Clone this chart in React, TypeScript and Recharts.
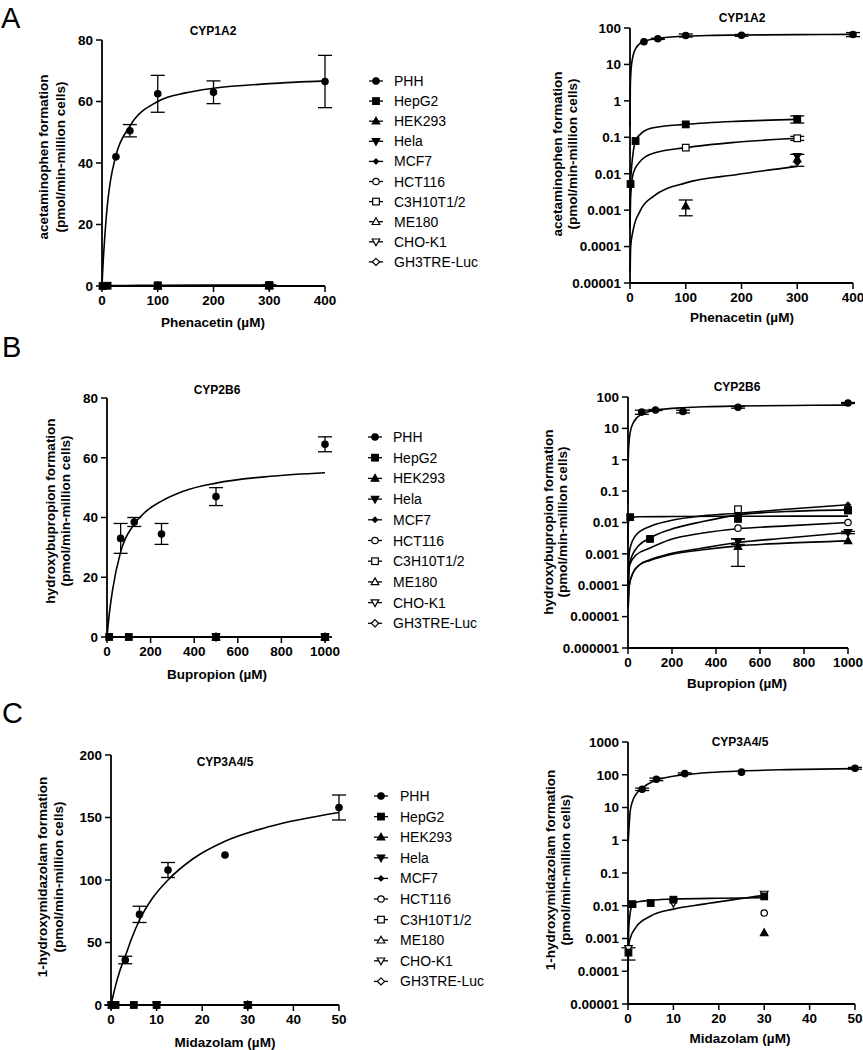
import React from "react";
import { ComposedChart, Line, Scatter, XAxis, YAxis, ErrorBar } from "recharts";

const FONT = '"Liberation Sans", Arial, Helvetica, sans-serif';

type Kind =
  | "circle" | "square" | "tri" | "invtri" | "diamond"
  | "ocircle" | "osquare" | "otri" | "oinvtri" | "odiamond";
type Tup = [number, number, number?];

const cellLines = ["PHH", "HepG2", "HEK293", "Hela", "MCF7", "HCT116", "C3H10T1/2", "ME180", "CHO-K1", "GH3TRE-Luc"];
const cellMarkers: Kind[] = ["circle", "square", "tri", "invtri", "diamond", "ocircle", "osquare", "otri", "oinvtri", "odiamond"];

// axis ticks
const phenacetinTicks = [0, 100, 200, 300, 400];
const bupropionTicks = [0, 200, 400, 600, 800, 1000];
const midazolamTicks = [0, 10, 20, 30, 40, 50];
const linTicks80 = [0, 20, 40, 60, 80];
const linTicks200 = [0, 50, 100, 150, 200];
const logTicksA = [0.00001, 0.0001, 0.001, 0.01, 0.1, 1, 10, 100];
const logTicksB = [0.000001, 0.00001, 0.0001, 0.001, 0.01, 0.1, 1, 10, 100];
const logTicksC = [0.00001, 0.0001, 0.001, 0.01, 0.1, 1, 10, 100, 1000];

// A: phenacetin -> acetaminophen  [x, y, err]
const phhA: Tup[] = [[25, 42], [50, 50.5, 2], [100, 62.5, 6], [200, 63, 3.7], [400, 66.5, 8.5]];
const phhFitA: Tup[] = [[0, 0], [0.05, 0.2], [0.5, 2], [1, 4], [2, 7.5], [5, 16], [10, 27], [15, 34], [25, 42.5], [50, 52], [100, 60], [150, 62.8], [200, 64.3], [300, 65.8], [400, 66.7]];
const hepg2A: Tup[] = [[1, 0.0052], [10, 0.079], [100, 0.226], [300, 0.316, 0.07]];
const hepg2FitA: Tup[] = [[0, 0], [0.05, 0.0003], [0.3, 0.0015], [1, 0.0052], [3, 0.016], [6, 0.042], [10, 0.079], [24, 0.143], [42, 0.183], [100, 0.226], [190, 0.273], [300, 0.31]];
const c3hA: Tup[] = [[100, 0.052], [300, 0.094, 0.012]];
const c3hFitA: Tup[] = [[0, 0], [0.2, 0.0004], [1.2, 0.0024], [6, 0.0104], [18, 0.0217], [42, 0.0366], [100, 0.052], [190, 0.073], [300, 0.094]];
const hek293A: Tup[] = [[100, 0.0013, 0.0006], [300, 0.025, 0.009]];
const helaA: Tup[] = [[300, 0.03]];
const mcf7A: Tup[] = [[300, 0.02]];
const mcf7FitA: Tup[] = [[0, 0], [0.3, 0.00002], [1.2, 0.0001], [6, 0.0003], [18, 0.00094], [42, 0.0024], [100, 0.0056], [190, 0.0094], [300, 0.0159]];

// B: bupropion -> hydroxybupropion
const phhB: Tup[] = [[62.5, 33, 5], [125, 38.5, 1.5], [250, 34.5, 3.5], [500, 47, 3], [1000, 64.5, 2.5]];
const phhFitB: Tup[] = [[0, 0], [0.05, 0.04], [0.5, 0.4], [1, 0.83], [2, 1.6], [5, 3.9], [10, 7.4], [25, 15.5], [62.5, 28.5], [125, 37.8], [175, 41.8], [250, 45.5], [350, 48.8], [500, 51.5], [750, 53.8], [1000, 55]];
const hepg2B: Tup[] = [[10, 0.0148], [100, 0.003], [500, 0.013], [1000, 0.024]];
const hepg2FitB: Tup[] = [[0, 0], [0.5, 0.00003], [2, 0.00015], [8, 0.00051], [38, 0.0015], [100, 0.0032], [190, 0.0059], [340, 0.0107], [500, 0.0175], [720, 0.0223], [1000, 0.0252]];
const mcf7B: Tup[] = [[500, 0.0175], [1000, 0.037]];
const mcf7FitB: Tup[] = [[0, 0], [0.5, 0.00005], [2, 0.0003], [8, 0.0014], [38, 0.0041], [100, 0.0075], [190, 0.0113], [340, 0.0163], [500, 0.0198], [720, 0.0265], [1000, 0.037]];
const hct116B: Tup[] = [[500, 0.0066], [1000, 0.01]];
const hct116FitB: Tup[] = [[0, 0], [0.5, 0.00003], [2, 0.00012], [8, 0.00045], [38, 0.00094], [100, 0.00153], [190, 0.0028], [340, 0.0046], [500, 0.0063], [720, 0.0078], [1000, 0.01]];
const helaB: Tup[] = [[500, 0.0025, 0.0005], [1000, 0.0048, 0.0004]];
const helaFitB: Tup[] = [[0, 0], [1, 0.00002], [4.6, 0.00009], [23, 0.00025], [53, 0.00045], [100, 0.00065], [190, 0.001], [340, 0.00153], [500, 0.0023], [720, 0.0032], [1000, 0.0048]];
const hek293B: Tup[] = [[500, 0.0017, 0.0013], [1000, 0.0026]];
const hek293FitB: Tup[] = [[0, 0], [1, 0.00002], [4.6, 0.00009], [23, 0.00025], [53, 0.00045], [100, 0.00062], [190, 0.00094], [340, 0.00135], [500, 0.0018], [720, 0.0022], [1000, 0.0026]];
const c3hB: Tup[] = [[500, 0.0265], [1000, 0.025]];
const gh3FitB: Tup[] = [[0, 0], [0.2, 0.002], [1, 0.008], [3, 0.012], [8, 0.0148], [50, 0.0152], [200, 0.0155], [500, 0.0158], [1000, 0.016]];

// C: midazolam -> 1-hydroxymidazolam
const phhC: Tup[] = [[3.125, 36, 3], [6.25, 72.5, 6.5], [12.5, 108, 6], [25, 120], [50, 158, 10]];
const phhFitC: Tup[] = [[0, 0], [0.05, 0.9], [0.5, 8], [1, 15.5], [2, 28], [3.125, 39], [4.5, 53], [6.25, 68], [9, 85], [12.5, 100], [18, 117], [25, 131], [35, 143], [50, 154]];
const hepg2C: Tup[] = [[0.1, 0.00037, 0.00015], [1, 0.0112], [5, 0.0121], [10, 0.0153], [30, 0.0193]];
const hepg2FitC: Tup[] = [[0, 0], [0.02, 0.0004], [0.15, 0.0018], [0.4, 0.005], [1, 0.011], [2.5, 0.0135], [5, 0.0146], [10, 0.016], [20, 0.017], [30, 0.0175]];
const choC: Tup[] = [[0.1, 0.0005], [10, 0.012], [30, 0.0228]];
const choFitC: Tup[] = [[0, 0], [0.02, 0.0001], [0.1, 0.0004], [0.37, 0.0009], [1.85, 0.0023], [4.8, 0.0047], [10, 0.0079], [16.7, 0.0112], [30, 0.0207]];
const hct116C: Tup[] = [[30, 0.006]];
const hek293C: Tup[] = [[30, 0.0015]];

const toPts = (rows: Tup[]) => rows.map(([x, y, e]) => ({ x, y, e }));

function Marker({ kind, cx, cy }: { kind: Kind; cx: number; cy: number }) {
  const open = kind.startsWith("o");
  const fill = open ? "#fff" : "#000";
  const base = kind.replace(/^o/, "");
  const common = { fill, stroke: "#000", strokeWidth: 1.2 };
  if (base === "circle") return <circle cx={cx} cy={cy} r={3.2} {...common} />;
  if (base === "square") return <rect x={cx - 3.3} y={cy - 3.3} width={6.6} height={6.6} {...common} />;
  if (base === "tri")
    return <polygon points={`${cx},${cy - 4} ${cx + 3.8},${cy + 2.8} ${cx - 3.8},${cy + 2.8}`} {...common} />;
  if (base === "invtri")
    return <polygon points={`${cx},${cy + 4} ${cx + 3.8},${cy - 2.8} ${cx - 3.8},${cy - 2.8}`} {...common} />;
  const s = open ? 3.6 : 2.6;
  return <polygon points={`${cx},${cy - s} ${cx + s},${cy} ${cx},${cy + s} ${cx - s},${cy}`} {...common} />;
}

interface Series {
  kind: Kind;
  pts: Tup[];
  fit?: Tup[];
}

interface PanelProps {
  box: { l: number; r: number; t: number; b: number };
  log?: boolean;
  xDomain: [number, number];
  xTicks: number[];
  yDomain: [number, number];
  yTicks: number[];
  series: Series[];
  head: string;
  headAt: [number, number];
  xText: string;
  xTextAt: [number, number];
  yLines: [string, string];
  yXs: [number, number];
  yCy: number;
}

const PAD_L = 110, PAD_R = 20, PAD_T = 30, PAD_B = 60, Y_W = 60, X_H = 30;

function YTitles(props: any) {
  const { pox, poy, head, headAt, yLines, yXs, yCy } = props;
  return (
    <g fontFamily={FONT} fontWeight="bold" fill="#000">
      <text x={headAt[0] - pox} y={headAt[1] - poy} textAnchor="middle" dominantBaseline="central" fontSize={12}>
        {head}
      </text>
      {yLines.map((s: string, i: number) => {
        const x = yXs[i] - pox;
        const y = yCy - poy;
        return (
          <text key={i} x={x} y={y} textAnchor="middle" dominantBaseline="central" fontSize={13.5}
            transform={`rotate(-90 ${x} ${y})`}>
            {s}
          </text>
        );
      })}
    </g>
  );
}

function XTitle(props: any) {
  const { pox, poy, xText, xTextAt } = props;
  return (
    <text x={xTextAt[0] - pox} y={xTextAt[1] - poy} textAnchor="middle" dominantBaseline="central"
      fontFamily={FONT} fontWeight="bold" fontSize={13.5} fill="#000">
      {xText}
    </text>
  );
}

function Panel(p: PanelProps) {
  const ox = p.box.l - PAD_L;
  const oy = p.box.t - PAD_T;
  const w = p.box.r - p.box.l + PAD_L + PAD_R;
  const h = p.box.b - p.box.t + PAD_T + PAD_B;
  const keep = (rows: Tup[]) => {
    const d = toPts(rows);
    return p.log ? d.filter((q) => q.y > 0) : d;
  };
  const tick = { fill: "#000", fontSize: 13.5, fontWeight: "bold", fontFamily: FONT };
  return (
    <div style={{ position: "absolute", left: ox, top: oy }}>
      <ComposedChart width={w} height={h}
        margin={{ top: PAD_T, right: PAD_R, bottom: PAD_B - X_H, left: PAD_L - Y_W }}>
        <XAxis type="number" dataKey="x" domain={p.xDomain} ticks={p.xTicks} interval={0} height={X_H}
          tick={tick} tickSize={6} tickMargin={3}
          axisLine={{ stroke: "#000", strokeWidth: 1.8 }} tickLine={{ stroke: "#000", strokeWidth: 1.5 }}
          label={<XTitle pox={ox} poy={oy} xText={p.xText} xTextAt={p.xTextAt} />} />
        <YAxis type="number" dataKey="y" scale={p.log ? "log" : "linear"} domain={p.yDomain} ticks={p.yTicks}
          interval={0} width={Y_W} tick={tick} tickSize={6} tickMargin={3}
          tickFormatter={(v: number) => String(v)}
          axisLine={{ stroke: "#000", strokeWidth: 1.8 }} tickLine={{ stroke: "#000", strokeWidth: 1.5 }}
          label={<YTitles pox={ox} poy={oy} head={p.head} headAt={p.headAt} yLines={p.yLines} yXs={p.yXs} yCy={p.yCy} />} />
        {p.series.filter((s) => s.fit).map((s, i) => (
          <Line key={"fit" + i} data={keep(s.fit!)} dataKey="y" type="monotone" stroke="#000"
            strokeWidth={1.6} dot={false} activeDot={false} isAnimationActive={false} />
        ))}
        {p.series.map((s, i) => (
          <Scatter key={"pts" + i} data={keep(s.pts)} dataKey="y" isAnimationActive={false}
            shape={(q: any) => <Marker kind={s.kind} cx={q.cx} cy={q.cy} />}>
            <ErrorBar dataKey="e" direction="y" width={7} stroke="#000" strokeWidth={1.3} />
          </Scatter>
        ))}
      </ComposedChart>
    </div>
  );
}

function CellLegend({ x, y0, dy, tx }: { x: number; y0: number; dy: number; tx: number }) {
  return (
    <g>
      {cellLines.map((name, i) => {
        const y = y0 + i * dy;
        return (
          <g key={name}>
            <line x1={x - 7} x2={x + 7} y1={y} y2={y} stroke="#000" strokeWidth={1.3} />
            <Marker kind={cellMarkers[i]} cx={x} cy={y} />
            <text x={tx} y={y} dominantBaseline="central" fontSize={14} fontFamily={FONT} fill="#000">
              {name}
            </text>
          </g>
        );
      })}
    </g>
  );
}

export default function App() {
  const rowA: Series[] = [
    { kind: "circle", pts: phhA, fit: phhFitA },
    { kind: "osquare", pts: c3hA, fit: c3hFitA },
    { kind: "diamond", pts: mcf7A, fit: mcf7FitA },
    { kind: "tri", pts: hek293A },
    { kind: "invtri", pts: helaA },
    { kind: "square", pts: hepg2A, fit: hepg2FitA },
  ];
  const rowB: Series[] = [
    { kind: "circle", pts: phhB, fit: phhFitB },
    { kind: "odiamond", pts: [], fit: gh3FitB },
    { kind: "diamond", pts: mcf7B, fit: mcf7FitB },
    { kind: "ocircle", pts: hct116B, fit: hct116FitB },
    { kind: "invtri", pts: helaB, fit: helaFitB },
    { kind: "tri", pts: hek293B, fit: hek293FitB },
    { kind: "osquare", pts: c3hB },
    { kind: "square", pts: hepg2B, fit: hepg2FitB },
  ];
  const rowC: Series[] = [
    { kind: "circle", pts: phhC, fit: phhFitC },
    { kind: "oinvtri", pts: choC, fit: choFitC },
    { kind: "ocircle", pts: hct116C },
    { kind: "tri", pts: hek293C },
    { kind: "square", pts: hepg2C, fit: hepg2FitC },
  ];

  const yA: [string, string] = ["acetaminophen formation", "(pmol/min-million cells)"];
  const yB: [string, string] = ["hydroxybupropion formation", "(pmol/min-million cells)"];
  const yC: [string, string] = ["1-hydroxymidazolam formation", "(pmol/min-million cells)"];

  return (
    <div style={{ position: "absolute", left: 0, top: 0, width: 863, height: 1050, background: "#fff", overflow: "hidden" }}>
      <Panel box={{ l: 102, r: 325, t: 40, b: 286 }} xDomain={[0, 400]} xTicks={phenacetinTicks}
        yDomain={[0, 80]} yTicks={linTicks80} series={rowA} head="CYP1A2" headAt={[213, 31]}
        xText="Phenacetin (µM)" xTextAt={[213, 322]} yLines={yA} yXs={[43, 60]} yCy={157} />
      <Panel box={{ l: 630, r: 853, t: 28, b: 283 }} log xDomain={[0, 400]} xTicks={phenacetinTicks}
        yDomain={[0.00001, 100]} yTicks={logTicksA} series={rowA} head="CYP1A2" headAt={[742, 18]}
        xText="Phenacetin (µM)" xTextAt={[742, 317]} yLines={yA} yXs={[557, 572]} yCy={154} />

      <Panel box={{ l: 107, r: 325, t: 398, b: 637 }} xDomain={[0, 1000]} xTicks={bupropionTicks}
        yDomain={[0, 80]} yTicks={linTicks80} series={rowB} head="CYP2B6" headAt={[217, 390]}
        xText="Bupropion (µM)" xTextAt={[217, 674]} yLines={yB} yXs={[50, 65]} yCy={511} />
      <Panel box={{ l: 628, r: 848, t: 397, b: 648 }} log xDomain={[0, 1000]} xTicks={bupropionTicks}
        yDomain={[0.000001, 100]} yTicks={logTicksB} series={rowB} head="CYP2B6" headAt={[737, 387]}
        xText="Bupropion (µM)" xTextAt={[737, 683]} yLines={yB} yXs={[548, 562]} yCy={522} />

      <Panel box={{ l: 111, r: 339, t: 755, b: 1005 }} xDomain={[0, 50]} xTicks={midazolamTicks}
        yDomain={[0, 200]} yTicks={linTicks200} series={rowC} head="CYP3A4/5" headAt={[225, 762]}
        xText="Midazolam (µM)" xTextAt={[225, 1042]} yLines={yC} yXs={[42, 58]} yCy={877} />
      <Panel box={{ l: 628, r: 855, t: 742, b: 1004 }} log xDomain={[0, 50]} xTicks={midazolamTicks}
        yDomain={[0.00001, 1000]} yTicks={logTicksC} series={rowC} head="CYP3A4/5" headAt={[740, 742]}
        xText="Midazolam (µM)" xTextAt={[740, 1038]} yLines={yC} yXs={[550, 565]} yCy={870} />

      <svg width={863} height={1050} style={{ position: "absolute", left: 0, top: 0, pointerEvents: "none" }}>
        <g fontFamily={FONT} fontSize={29} fill="#000">
          <text x={1} y={28}>A</text>
          <text x={2} y={357}>B</text>
          <text x={2} y={723}>C</text>
        </g>
        <CellLegend x={376} y0={81} dy={20.1} tx={394} />
        <CellLegend x={375} y0={437} dy={20.7} tx={393} />
        <CellLegend x={381} y0={796} dy={20.6} tx={400} />
      </svg>
    </div>
  );
}
